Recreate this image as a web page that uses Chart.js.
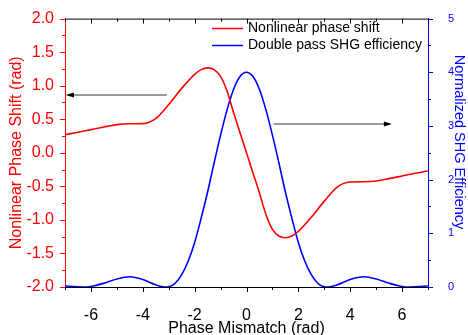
<!DOCTYPE html>
<html>
<head>
<meta charset="utf-8">
<script src="https://cdn.jsdelivr.net/npm/chart.js@4"></script>
<style>
  html, body { margin: 0; padding: 0; background: #fff; }
</style>
</head>
<body>
<canvas id="chart" width="468" height="335"></canvas>
<script>
// values
const phaseX = [-7, -6.5, -6, -5.5, -5, -4.5, -4, -3.5, -3, -2.5, -2, -1.75, -1.5, -1.25, -1, -0.75, -0.5, -0.25,
  0, 0.25, 0.5, 0.75, 1, 1.25, 1.5, 1.75, 2, 2.5, 3, 3.5, 4, 4.5, 5, 5.5, 6, 6.5, 7];
const phaseShift = [0.27, 0.305, 0.345, 0.385, 0.42, 0.432, 0.435, 0.51, 0.72, 0.96, 1.17, 1.24, 1.265, 1.24, 1.14, 0.92, 0.6, 0.3,
  0, -0.3, -0.6, -0.92, -1.14, -1.24, -1.265, -1.24, -1.17, -0.96, -0.72, -0.51, -0.435, -0.432, -0.42, -0.385, -0.345, -0.305, -0.27];

const shgX = [-7, -6.5, -6.28, -6, -5.5, -5, -4.5, -4, -3.5, -3.14, -3, -2.75, -2.5, -2.25, -2, -1.75, -1.5, -1.25, -1, -0.75, -0.5, -0.25,
  0, 0.25, 0.5, 0.75, 1, 1.25, 1.5, 1.75, 2, 2.25, 2.5, 2.75, 3, 3.14, 3.5, 4, 4.5, 5, 5.5, 6, 6.28, 6.5, 7];
const shgEff = [0.02, 0.005, 0, 0.01, 0.07, 0.15, 0.19, 0.14, 0.04, 0, 0.005, 0.07, 0.23, 0.48, 0.83, 1.28, 1.77, 2.31, 2.83, 3.3, 3.68, 3.92,
  4.0, 3.92, 3.68, 3.3, 2.83, 2.31, 1.77, 1.28, 0.83, 0.48, 0.23, 0.07, 0.005, 0, 0.04, 0.14, 0.19, 0.15, 0.07, 0.01, 0, 0.005, 0.02];

const xTicks = [-6, -4, -2, 0, 2, 4, 6];
const yTicks = [-2, -1.5, -1, -0.5, 0, 0.5, 1, 1.5, 2];
const y2Ticks = [0, 1, 2, 3, 4, 5];

// arrows (data coords, left axis units): [x start, x end], y
const arrowLeftX = [-3.07, -6.89];
const arrowLeftY = 0.86;
const arrowRightX = [1.05, 5.53];
const arrowRightY = 0.425;

const FONT = "'Liberation Sans', Arial, sans-serif";
const RED = "#ff0000";
const BLUE = "#0000ff";

function toPoints(xs, ys) {
  return xs.map((x, i) => ({ x: x, y: ys[i] }));
}

// minor/major tick marks and the top frame line
const tickMarks = {
  id: "tickMarks",
  afterDraw(chart) {
    const ctx = chart.ctx;
    const a = chart.chartArea;
    const sx = chart.scales.x, sy = chart.scales.y, sy2 = chart.scales.y2;
    ctx.save();
    ctx.lineWidth = 1;

    ctx.strokeStyle = "#000";
    ctx.beginPath();
    ctx.moveTo(a.left, a.top + 0.5);
    ctx.lineTo(a.right, a.top + 0.5);
    for (let v = -7; v <= 7; v++) {
      const px = Math.round(sx.getPixelForValue(v)) + 0.5;
      const len = v % 2 === 0 ? 5 : 3;
      ctx.moveTo(px, a.bottom);
      ctx.lineTo(px, a.bottom + len);
      ctx.moveTo(px, a.top);
      ctx.lineTo(px, a.top + len);
    }
    ctx.stroke();

    ctx.strokeStyle = RED;
    ctx.beginPath();
    for (let i = 0; i <= 16; i++) {
      const py = Math.round(sy.getPixelForValue(-2 + i * 0.25)) + 0.5;
      const len = i % 2 === 0 ? 5 : 3;
      ctx.moveTo(a.left, py);
      ctx.lineTo(a.left - len, py);
    }
    ctx.stroke();

    ctx.strokeStyle = BLUE;
    ctx.beginPath();
    for (let i = 0; i <= 10; i++) {
      const py = Math.round(sy2.getPixelForValue(i * 0.5)) + 0.5;
      const len = i % 2 === 0 ? 5 : 3;
      ctx.moveTo(a.right, py);
      ctx.lineTo(a.right + len, py);
    }
    ctx.stroke();

    // right axis title, sits a bit above the axis centre in the original
    ctx.fillStyle = BLUE;
    ctx.font = "14.5px " + FONT;
    ctx.textAlign = "center";
    ctx.textBaseline = "middle";
    ctx.translate(459, 142);
    ctx.rotate(Math.PI / 2);
    ctx.fillText(chart.options.scales.y2.title.text, 0, 0);
    ctx.restore();
  },
};

function drawArrow(ctx, x1, x2, y) {
  ctx.strokeStyle = "#999";
  ctx.lineWidth = 2;
  ctx.beginPath();
  ctx.moveTo(x1, y);
  ctx.lineTo(x2, y);
  ctx.stroke();
  const dir = x2 > x1 ? 1 : -1;
  ctx.fillStyle = "#000";
  ctx.beginPath();
  ctx.moveTo(x2 + dir * 2, y);
  ctx.lineTo(x2 - dir * 6, y - 2.5);
  ctx.lineTo(x2 - dir * 6, y + 2.5);
  ctx.closePath();
  ctx.fill();
}

const arrows = {
  id: "arrows",
  afterDatasetsDraw(chart) {
    const ctx = chart.ctx;
    const sx = chart.scales.x, sy = chart.scales.y;
    ctx.save();
    drawArrow(ctx, sx.getPixelForValue(arrowLeftX[0]), sx.getPixelForValue(arrowLeftX[1]), Math.round(sy.getPixelForValue(arrowLeftY)));
    drawArrow(ctx, sx.getPixelForValue(arrowRightX[0]), sx.getPixelForValue(arrowRightX[1]), Math.round(sy.getPixelForValue(arrowRightY)));
    ctx.restore();
  },
};

// legend sits inside the plot, no box
const innerLegend = {
  id: "innerLegend",
  afterDatasetsDraw(chart) {
    const ctx = chart.ctx;
    ctx.save();
    ctx.font = "14px " + FONT;
    ctx.textBaseline = "middle";
    chart.data.datasets.forEach((ds, i) => {
      const y = 28 + i * 17;
      ctx.strokeStyle = ds.borderColor;
      ctx.lineWidth = 1.5;
      ctx.beginPath();
      ctx.moveTo(212, y + 0.5);
      ctx.lineTo(243, y + 0.5);
      ctx.stroke();
      ctx.fillStyle = "#000";
      ctx.fillText(ds.label, 248, y);
    });
    ctx.restore();
  },
};

const ctx = document.getElementById("chart");
new Chart(ctx, {
  type: "line",
  data: {
    datasets: [
      {
        label: "Nonlinear phase shift",
        data: toPoints(phaseX, phaseShift),
        borderColor: RED,
        borderWidth: 1.6,
        pointRadius: 0,
        cubicInterpolationMode: "monotone",
        yAxisID: "y",
      },
      {
        label: "Double pass SHG efficiency",
        data: toPoints(shgX, shgEff),
        borderColor: BLUE,
        borderWidth: 1.6,
        pointRadius: 0,
        cubicInterpolationMode: "monotone",
        yAxisID: "y2",
      },
    ],
  },
  options: {
    responsive: false,
    devicePixelRatio: 1,
    animation: false,
    layout: { padding: { top: 16, left: 0, right: 0, bottom: 0 } },
    plugins: {
      legend: { display: false },
      tooltip: { enabled: false },
    },
    scales: {
      x: {
        type: "linear",
        position: "bottom",
        min: -7,
        max: 7,
        afterBuildTicks: (s) => { s.ticks = xTicks.map((v) => ({ value: v })); },
        afterFit: (s) => { s.height = 48; },
        grid: { display: false },
        border: { display: true, color: "#000", width: 1 },
        ticks: { color: "#000", font: { family: FONT, size: 16 }, padding: 11, maxRotation: 0 },
        title: {
          display: true,
          text: "Phase Mismatch (rad)",
          color: "#000",
          font: { family: FONT, size: 16, lineHeight: 0.8 },
          padding: { top: 0, bottom: 0 },
        },
      },
      y: {
        position: "left",
        min: -2,
        max: 2,
        afterBuildTicks: (s) => { s.ticks = yTicks.map((v) => ({ value: v })); },
        afterFit: (s) => { s.width = 65; },
        grid: { display: false },
        border: { display: true, color: RED, width: 1 },
        ticks: { color: RED, font: { family: FONT, size: 16 }, padding: 3, callback: (v) => v.toFixed(1) },
        title: {
          display: true,
          text: "Nonlinear Phase Shift (rad)",
          color: RED,
          font: { family: FONT, size: 16, lineHeight: 1.2 },
          padding: { top: 7, bottom: 0 },
        },
      },
      y2: {
        position: "right",
        min: 0,
        max: 5,
        afterBuildTicks: (s) => { s.ticks = y2Ticks.map((v) => ({ value: v })); },
        afterFit: (s) => { s.width = 40; },
        grid: { display: false },
        border: { display: true, color: BLUE, width: 1 },
        ticks: { color: BLUE, font: { family: FONT, size: 11 }, padding: 12 },
        // drawn by the tickMarks plugin so it can sit off-centre
        title: { display: false, text: "Normalized SHG Efficiency" },
      },
    },
  },
  plugins: [tickMarks, arrows, innerLegend],
});
</script>
</body>
</html>
